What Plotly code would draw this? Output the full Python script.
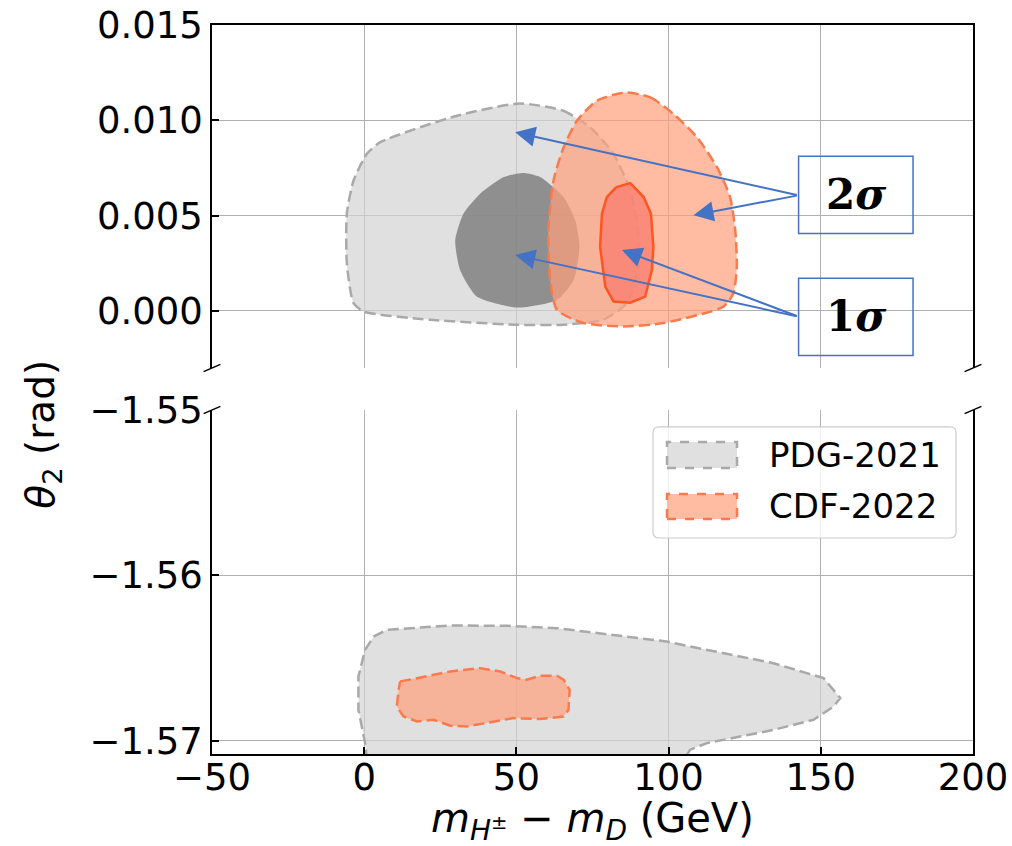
import plotly.graph_objects as go

# ---------------- data (contour outlines) ----------------
x_ticks = [-50, 0, 50, 100, 150, 200]
y_top_ticks = [0.000, 0.005, 0.010, 0.015]
y_bot_ticks = [-1.57, -1.56, -1.55]
legend_names = ["PDG-2021", "CDF-2022"]

# top panel: PDG-2021 2-sigma region
pdg2_top_x = [51.2, 65.4, 74.2, 81.8, 87.4, 90.0, 89.7, 86.4, 78.5, 65.5, 50.2, 21.7, -0.2, -3.5, -5.7, -5.7, -3.5, 0.9, 5.3, 30.5]
pdg2_top_y = [0.01088, 0.01050, 0.00963, 0.00826, 0.00632, 0.00423, 0.00214, 0.00042, -0.00047, -0.00073, -0.00073,
              -0.00047, -0.00004, 0.00040, 0.00249, 0.00510, 0.00684, 0.00824, 0.00885, 0.01024]
# top panel: PDG-2021 1-sigma region
pdg1_top_x = [52.3, 57.8, 65.5, 69.3, 70.7, 68.8, 63.3, 50.2, 37.0, 31.5, 29.9, 32.6, 38.1, 45.8]
pdg1_top_y = [0.00723, 0.00702, 0.00597, 0.00475, 0.00336, 0.00162, 0.00057, 0.00017, 0.00075, 0.00214, 0.00371,
              0.00510, 0.00615, 0.00702]
# top panel: CDF-2022 2-sigma region
cdf2_top_x = [85.7, 94.0, 101.6, 109.3, 115.9, 120.2, 121.9, 122.4, 121.3, 118.0, 98.3, 85.2, 72.0, 63.3, 61.1, 60.5,
              62.2, 65.5, 69.9, 76.4]
cdf2_top_y = [0.01146, 0.01120, 0.01033, 0.00911, 0.00754, 0.00597, 0.00423, 0.00231, 0.00092, 0.00022, -0.00064,
              -0.00082, -0.00064, 0.00005, 0.00162, 0.00423, 0.00684, 0.00858, 0.00998, 0.01102]
# top panel: CDF-2022 1-sigma region
cdf1_top_x = [82.8, 87.4, 91.8, 94.2, 95.0, 94.5, 92.3, 87.4, 81.9, 79.2, 77.5, 78.1, 79.7]
cdf1_top_y = [0.00649, 0.00670, 0.00597, 0.00510, 0.00336, 0.00214, 0.00075, 0.00043, 0.00049, 0.00127, 0.00336,
              0.00510, 0.00597]

# bottom panel: PDG-2021 region
pdg_bot_x = [0.9, 0.3, -1.9, -1.9, 0.3, 3.1, 7.5, 28.3, 46.9, 63.3, 99.4, 107.1, 134.5, 150.9, 156.4, 154.2, 147.6,
             134.5, 112.6, 107.1, 104.8]
pdg_bot_y = [-1.5712, -1.57014, -1.56813, -1.56611, -1.56450, -1.56370, -1.56329, -1.56303, -1.56305, -1.56319,
             -1.56400, -1.56430, -1.56531, -1.56621, -1.56742, -1.56793, -1.56873, -1.56934, -1.57014, -1.57054,
             -1.5712]
# bottom panel: CDF-2022 region
cdf_bot_x = [11.8, 17.3, 28.3, 38.1, 44.7, 50.2, 53.4, 57.8, 63.3, 65.5, 67.5, 67.1, 65.5, 57.8, 49.0, 33.7, 28.3,
             22.8, 17.3, 12.9, 10.7, 11.3]
cdf_bot_y = [-1.56642, -1.56621, -1.56581, -1.56561, -1.56581, -1.56621, -1.56631, -1.56607, -1.56607, -1.56631,
             -1.56692, -1.56813, -1.56853, -1.56869, -1.56863, -1.56914, -1.56909, -1.56873, -1.56883, -1.56853,
             -1.56793, -1.56692]

# annotation arrows (top panel, data coordinates): heads and tails
arrow_head_x = [49.6, 108.2, 49.6, 84.7]
arrow_head_y = [0.00937, 0.00502, 0.00293, 0.00319]
arrow_tail_x = [142.6, 142.6, 142.6, 142.6]
arrow_tail_y = [0.00606, 0.00606, -0.00030, -0.00030]
sigma_labels = ["<b>2<i>σ</i></b>", "<b>1<i>σ</i></b>"]
box_x = [142.7, 180.3]
box_y_2s = [0.00406, 0.00811]
box_y_1s = [-0.00235, 0.00171]

# ---------------- styles ----------------
GRAY_FILL = "rgba(211,211,211,0.7)"
GRAY_LINE = "#a9a9a9"
DARK_FILL = "rgba(128,128,128,0.84)"
ORANGE_FILL = "rgba(255,160,122,0.7)"
ORANGE_LINE = "#fb7a4c"
SALMON_FILL = "rgba(250,128,114,0.8)"
RED_LINE = "#ff5522"
BLUE = "#4472C4"
DASH = "11px,5px"
FONT = "DejaVu Sans"

fig = go.Figure()


def poly(x, y, fill, line_color, width, dash, name, xa, ya, smooth=False):
    fig.add_trace(go.Scatter(
        x=x + [x[0]], y=y + [y[0]], mode="lines", fill="toself", fillcolor=fill,
        line=dict(color=line_color, width=width, dash=dash,
                  shape="spline" if smooth else "linear", smoothing=0.6),
        name=name, showlegend=False, legendgroup=name, xaxis=xa, yaxis=ya,
        hoverinfo="skip"))


poly(pdg2_top_x, pdg2_top_y, GRAY_FILL, GRAY_LINE, 2.5, DASH, legend_names[0], "x", "y", True)
poly(pdg1_top_x, pdg1_top_y, DARK_FILL, "rgba(0,0,0,0)", 0, "solid", legend_names[0], "x", "y", True)
poly(cdf2_top_x, cdf2_top_y, ORANGE_FILL, ORANGE_LINE, 2.5, DASH, legend_names[1], "x", "y", True)
poly(cdf1_top_x, cdf1_top_y, SALMON_FILL, RED_LINE, 2.5, "solid", legend_names[1], "x", "y")
poly(pdg_bot_x, pdg_bot_y, GRAY_FILL, GRAY_LINE, 2.5, DASH, legend_names[0], "x2", "y2")
poly(cdf_bot_x, cdf_bot_y, ORANGE_FILL, ORANGE_LINE, 2.5, DASH, legend_names[1], "x2", "y2")

# ---------------- layout ----------------
TOP_DOM = [0.5295, 1.0]
BOT_DOM = [0.0, 0.4719]

common_x = dict(range=[-50, 200], tickvals=x_ticks, showgrid=True, gridcolor="#b0b0b0", gridwidth=1,
                zeroline=False, linecolor="black", linewidth=1.5, showline=True, automargin=False)
common_y = dict(showgrid=True, gridcolor="#b0b0b0", zeroline=False, showline=True, mirror=True,
                linecolor="black", linewidth=1.5, ticks="inside", ticklen=7, tickwidth=1.5, tickcolor="black",
                tickfont=dict(family=FONT, size=37), ticklabelstandoff=0, automargin=False)
fig.update_layout(
    width=1012, height=846,
    margin=dict(l=212, r=39, t=25, b=92),
    paper_bgcolor="white", plot_bgcolor="white",
    font=dict(family=FONT, size=36, color="black"),
    xaxis=dict(**common_x, anchor="y", side="top", showticklabels=False, ticks=""),
    xaxis2=dict(**common_x, anchor="y2", side="bottom", ticks="inside", ticklen=7, tickwidth=1.5,
                tickcolor="black", tickfont=dict(family=FONT, size=37), ticklabelstandoff=-10),
    yaxis=dict(**common_y, domain=TOP_DOM, range=[-0.003, 0.015], tickvals=y_top_ticks, tickformat=".3f"),
    yaxis2=dict(**common_y, domain=BOT_DOM, range=[-1.5708, -1.55], tickvals=y_bot_ticks, tickformat=".2f"),
    showlegend=False,
)

annotations = []
for hx, hy, tx, ty in zip(arrow_head_x, arrow_head_y, arrow_tail_x, arrow_tail_y):
    annotations.append(dict(x=hx, y=hy, ax=tx, ay=ty, xref="x", yref="y", axref="x", ayref="y",
                            text="", showarrow=True, arrowhead=2, arrowsize=2.0, arrowwidth=2,
                            arrowcolor=BLUE))
for lab, yy in zip(sigma_labels, [box_y_2s, box_y_1s]):
    annotations.append(dict(x=(box_x[0] + box_x[1]) / 2, y=(yy[0] + yy[1]) / 2, xref="x", yref="y",
                            text=lab, showarrow=False, font=dict(family="DejaVu Serif", size=42, color="black")))
annotations.append(dict(x=-0.258, y=0.439, xref="paper", yref="paper", textangle=-90,
                        text="<i>θ</i><sub>2</sub> (rad)", showarrow=False,
                        font=dict(family=FONT, size=39)))
annotations.append(dict(x=0.5, y=-0.092, xref="paper", yref="paper", yanchor="middle",
                        text="<i>m</i><sub><i>H</i><sup>±</sup></sub> − <i>m</i><sub><i>D</i></sub> (GeV)",
                        showarrow=False, font=dict(family=FONT, size=40)))

shapes = []
for yy in [box_y_2s, box_y_1s]:
    shapes.append(dict(type="rect", xref="x", yref="y", x0=box_x[0], x1=box_x[1], y0=yy[0], y1=yy[1],
                       line=dict(color=BLUE, width=1.5), fillcolor="rgba(0,0,0,0)"))
# axis-break marks
for xc in [0.0, 1.0]:
    for yc in [TOP_DOM[0], BOT_DOM[1]]:
        shapes.append(dict(type="line", xref="paper", yref="paper", x0=xc - 0.011, x1=xc + 0.011,
                           y0=yc - 0.005, y1=yc + 0.005, line=dict(color="black", width=1.5)))

# legend box (drawn like matplotlib's rounded legend frame)
LX0, LX1, LY0, LY1 = 0.5795, 0.9777, 0.2963, 0.4486
rx, ry = 0.008, 0.0083
legend_path = (f"M{LX0+rx},{LY1} L{LX1-rx},{LY1} Q{LX1},{LY1} {LX1},{LY1-ry} "
               f"L{LX1},{LY0+ry} Q{LX1},{LY0} {LX1-rx},{LY0} L{LX0+rx},{LY0} Q{LX0},{LY0} {LX0},{LY0+ry} "
               f"L{LX0},{LY1-ry} Q{LX0},{LY1} {LX0+rx},{LY1} Z")
shapes.append(dict(type="path", xref="paper", yref="paper", path=legend_path,
                   fillcolor="rgba(255,255,255,0.8)", line=dict(color="#cccccc", width=1.2)))
patch_rows = [(0.3923, 0.4280, GRAY_FILL, GRAY_LINE), (0.3224, 0.3567, ORANGE_FILL, ORANGE_LINE)]
for (y0, y1, fc, lc), name in zip(patch_rows, legend_names):
    shapes.append(dict(type="rect", xref="paper", yref="paper", x0=0.5979, x1=0.6899, y0=y0, y1=y1,
                       fillcolor=fc, line=dict(color=lc, width=2.5, dash="dash")))
    annotations.append(dict(x=0.7293, y=(y0 + y1) / 2, xref="paper", yref="paper", xanchor="left",
                            yanchor="middle", text=name, showarrow=False, font=dict(family=FONT, size=34)))

fig.update_layout(shapes=shapes, annotations=annotations)

fig.write_html("out.html")
